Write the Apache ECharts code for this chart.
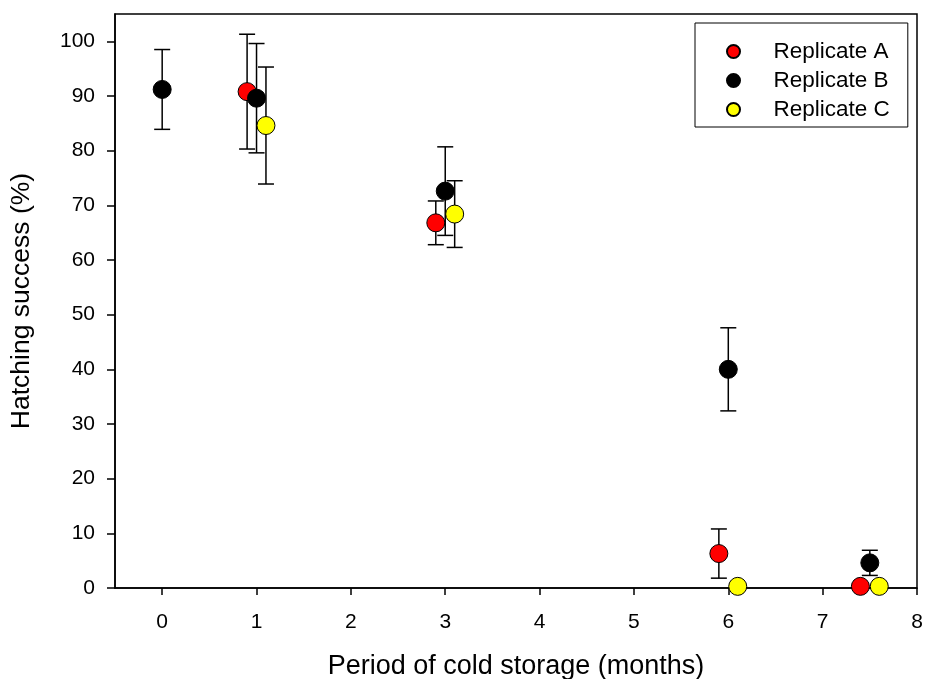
<!DOCTYPE html>
<html>
<head>
<meta charset="utf-8">
<script src="https://cdn.jsdelivr.net/npm/echarts@6/dist/echarts.min.js"></script>
<style>
  html, body { margin: 0; padding: 0; background: #fff; }
  #chart { width: 925px; height: 679px; }
</style>
</head>
<body>
<div id="chart"></div>
<script>
// ---- data ----
const seriesNames = ['Replicate A', 'Replicate B', 'Replicate C'];
const monthsA = [0.9, 2.9, 5.9, 7.4];
const valuesA = [90.8, 66.8, 6.3, 0.3];
const errorsA = [10.5, 4.0, 4.5, 0];
const monthsB = [0, 1.0, 3.0, 6.0, 7.5];
const valuesB = [91.2, 89.6, 72.6, 40.0, 4.6];
const errorsB = [7.3, 10.0, 8.1, 7.6, 2.3];
const monthsC = [1.1, 3.1, 6.1, 7.6];
const valuesC = [84.6, 68.4, 0.3, 0.3];
const errorsC = [10.7, 6.1, 0, 0];
const xTicks = [0, 1, 2, 3, 4, 5, 6, 7, 8];
const yTicks = [0, 10, 20, 30, 40, 50, 60, 70, 80, 90, 100];
const colors = ['#ff0000', '#000000', '#ffff00'];

const FONT = '"Liberation Sans", Arial, sans-serif';

function pts(xs, ys) { return xs.map((x, i) => [x, ys[i]]); }
function errs(xs, ys, es) { return xs.map((x, i) => [x, ys[i] - es[i], ys[i] + es[i]]); }

const groups = [
  { name: seriesNames[0], pts: pts(monthsA, valuesA), err: errs(monthsA, valuesA, errorsA), color: colors[0] },
  { name: seriesNames[1], pts: pts(monthsB, valuesB), err: errs(monthsB, valuesB, errorsB), color: colors[1] },
  { name: seriesNames[2], pts: pts(monthsC, valuesC), err: errs(monthsC, valuesC, errorsC), color: colors[2] }
];

function errorBarRender(params, api) {
  const x = api.value(0), lo = api.value(1), hi = api.value(2);
  if (hi - lo <= 0) return null;
  const top = api.coord([x, hi]);
  const bot = api.coord([x, lo]);
  const hw = 8;
  const style = { stroke: '#000', lineWidth: 1.5, fill: null };
  return {
    type: 'group',
    children: [
      { type: 'line', shape: { x1: top[0], y1: top[1], x2: bot[0], y2: bot[1] }, style },
      { type: 'line', shape: { x1: top[0] - hw, y1: top[1], x2: top[0] + hw, y2: top[1] }, style },
      { type: 'line', shape: { x1: bot[0] - hw, y1: bot[1], x2: bot[0] + hw, y2: bot[1] }, style }
    ]
  };
}

const series = [];
groups.forEach((g, i) => {
  series.push({
    name: g.name + ' error',
    type: 'custom',
    renderItem: errorBarRender,
    data: g.err,
    encode: { x: 0, y: [1, 2] },
    z: 2 + i * 2,
    silent: true,
    clip: false
  });
  series.push({
    name: g.name,
    type: 'scatter',
    data: g.pts,
    symbol: 'circle',
    symbolSize: 18,
    itemStyle: { color: g.color, borderColor: '#000', borderWidth: 1, opacity: 1 },
    z: 3 + i * 2,
    clip: false
  });
});

const chart = echarts.init(document.getElementById('chart'), null, { renderer: 'canvas' });
chart.setOption({
  animation: false,
  backgroundColor: '#fff',
  textStyle: { fontFamily: FONT, color: '#000' },
  grid: {
    left: 115, right: 8, top: 14, bottom: 91,
    outerBoundsMode: 'none',
    containLabel: false,
    show: true, borderColor: '#000', borderWidth: 1.5, backgroundColor: 'transparent'
  },
  legend: {
    data: seriesNames,
    orient: 'vertical',
    left: 695, top: 23,
    icon: 'circle',
    itemWidth: 70, itemHeight: 13,
    itemGap: 6,
    padding: [17, 18, 6, 31],
    borderColor: '#000', borderWidth: 1,
    backgroundColor: '#fff',
    textStyle: { fontFamily: FONT, fontSize: 22.5, color: '#000', lineHeight: 22 }
  },
  xAxis: {
    type: 'value',
    min: -0.5, max: 8,
    name: 'Period of cold storage (months)',
    nameLocation: 'middle',
    nameGap: 65,
    nameTextStyle: { fontFamily: FONT, fontSize: 27, color: '#000' },
    splitLine: { show: false },
    axisLine: { show: true, onZero: false, lineStyle: { color: '#000', width: 1.5 } },
    axisTick: { show: true, length: 7, lineStyle: { color: '#000', width: 1.5 }, customValues: xTicks },
    axisLabel: { fontFamily: FONT, fontSize: 21, color: '#000', margin: 24, customValues: xTicks }
  },
  yAxis: {
    type: 'value',
    min: 0, max: 105,
    name: 'Hatching success (%)',
    nameLocation: 'middle',
    nameGap: 80,
    nameTextStyle: { fontFamily: FONT, fontSize: 26.5, color: '#000' },
    splitLine: { show: false },
    axisLine: { show: true, onZero: false, lineStyle: { color: '#000', width: 1.5 } },
    axisTick: { show: true, length: 8, lineStyle: { color: '#000', width: 1.5 }, customValues: yTicks },
    axisLabel: { fontFamily: FONT, fontSize: 21, color: '#000', margin: 20, customValues: yTicks }
  },
  series: series
});
</script>
</body>
</html>
